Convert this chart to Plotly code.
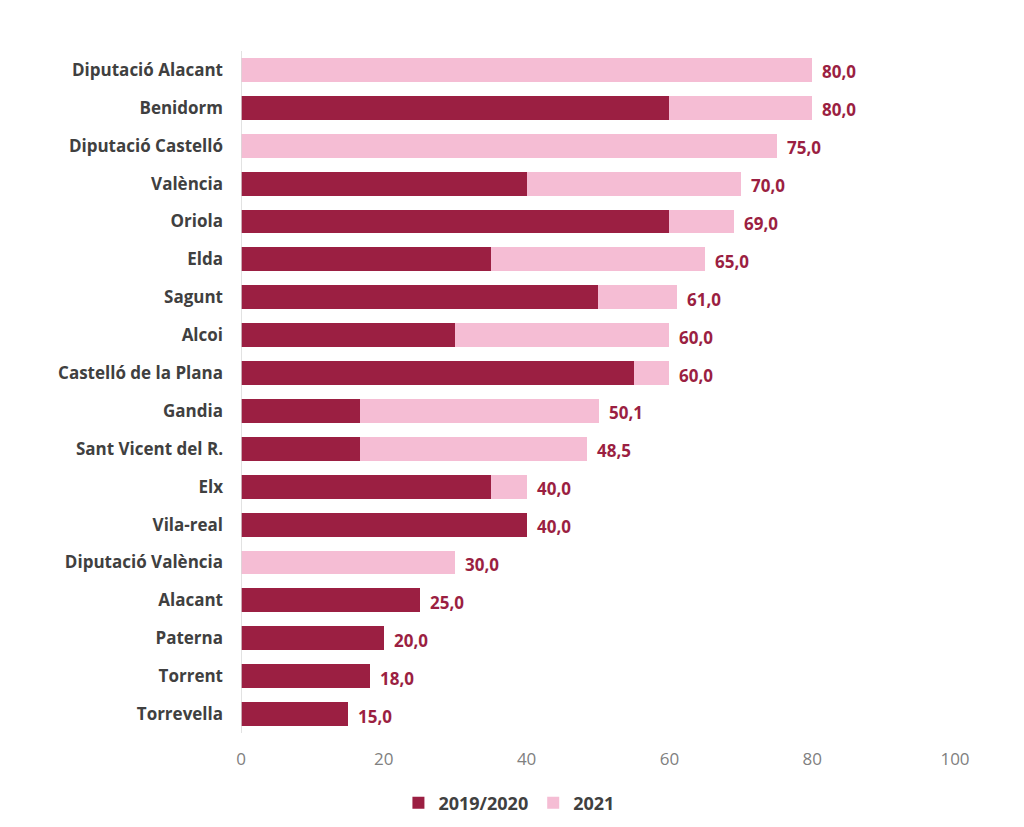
import plotly.graph_objects as go

categories = ["Diputació Alacant", "Benidorm", "Diputació Castelló", "València", "Oriola",
              "Elda", "Sagunt", "Alcoi", "Castelló de la Plana", "Gandia",
              "Sant Vicent del R.", "Elx", "Vila-real", "Diputació València",
              "Alacant", "Paterna", "Torrent", "Torrevella"]
v2019 = [0, 60, 0, 40, 60, 35, 50, 30, 55, 16.6, 16.6, 35, 40, 0, 25, 20, 18, 15]
totals = [80.0, 80.0, 75.0, 70.0, 69.0, 65.0, 61.0, 60.0, 60.0, 50.1, 48.5, 40.0, 40.0, 30.0, 25.0, 20.0, 18.0, 15.0]
v2021 = [round(t - a, 1) for t, a in zip(totals, v2019)]
total_labels = [f"{t:.1f}".replace(".", ",") for t in totals]

dark = "#9B1F42"
pink = "#F5BDD4"

fig = go.Figure()
fig.add_trace(go.Bar(y=categories, x=v2019, orientation="h", name="2019/2020",
                     marker=dict(color=dark, line=dict(width=0))))
fig.add_trace(go.Bar(y=categories, x=v2021, orientation="h", name="2021",
                     marker=dict(color=pink, line=dict(width=0))))

for c, t, lab in zip(categories, totals, total_labels):
    fig.add_annotation(x=t, y=c, text=f"<b>{lab}</b>", showarrow=False,
                       xanchor="left", xshift=8, yshift=-2,
                       font=dict(family="Open Sans", size=17, color=dark))

fig.update_layout(
    barmode="stack",
    bargap=0.37,
    width=1024, height=827,
    margin=dict(l=241, r=69, t=51, b=94),
    plot_bgcolor="white", paper_bgcolor="white",
    font=dict(family="Open Sans", color="#404040"),
    legend=dict(orientation="h", xref="container", yref="container",
                x=0.497, xanchor="center", y=0.029, yanchor="middle",
                font=dict(family="Open Sans", size=18, color="#404040", weight="bold"),
                traceorder="normal", itemwidth=30),
    xaxis=dict(range=[0, 100], tickvals=[0, 20, 40, 60, 80, 100], showgrid=False,
               zeroline=False, showline=False, ticks="", ticklabelstandoff=14,
               tickfont=dict(family="Open Sans", size=17, color="#808080")),
    yaxis=dict(categoryorder="array", categoryarray=categories[::-1],
               showgrid=False, zeroline=False, showline=False, ticks="",
               ticklabelstandoff=17,
               tickfont=dict(family="Open Sans", size=17, color="#404040", weight="bold")),
    shapes=[dict(type="line", xref="x", yref="paper", x0=0, x1=0, y0=0, y1=1,
                 line=dict(color="#D9D9D9", width=1.5))],
)

fig.write_html("out.html")
